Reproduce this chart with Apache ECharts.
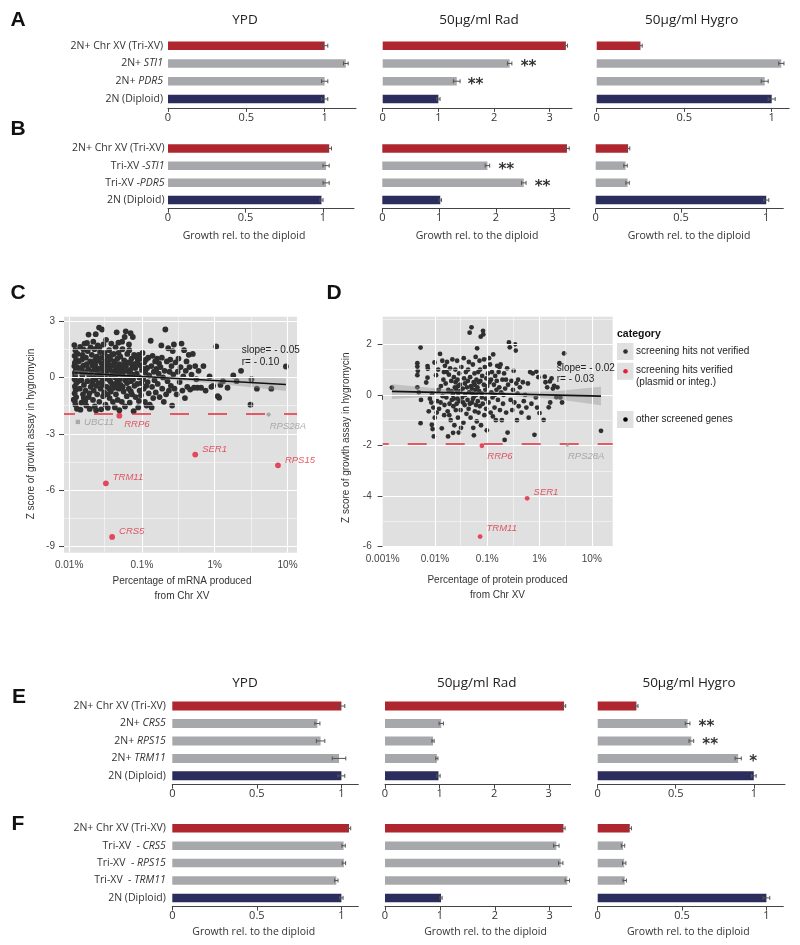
<!DOCTYPE html>
<html><head><meta charset="utf-8">
<script src="https://cdn.jsdelivr.net/npm/echarts@6/dist/echarts.min.js"></script>
<style>html,body{margin:0;padding:0;background:#fff}#c{width:800px;height:945px}</style>
</head><body><div id="c"></div>
<script>
// ---------------- DATA ----------------
const italicGenes = ['STI1','PDR5','CRS5','RPS15','TRM11'];
const catsA = ['2N+ Chr XV (Tri-XV)','2N+ STI1','2N+ PDR5','2N (Diploid)'];
const catsB = ['2N+ Chr XV (Tri-XV)','Tri-XV -STI1','Tri-XV -PDR5','2N (Diploid)'];
const catsE = ['2N+ Chr XV (Tri-XV)','2N+ CRS5','2N+ RPS15','2N+ TRM11','2N (Diploid)'];
const catsF = ['2N+ Chr XV (Tri-XV)','Tri-XV  - CRS5','Tri-XV  - RPS15','Tri-XV  - TRM11','2N (Diploid)'];
const conditions = ['YPD','50µg/ml Rad','50µg/ml Hygro'];
const axisTitle = 'Growth rel. to the diploid';

const A_ypd = [1.0, 1.135, 1.0, 1.0],    A_ypd_err = [0.02, 0.015, 0.02, 0.02];
const A_rad = [3.29, 2.28, 1.33, 1.0],   A_rad_err = [0.03, 0.04, 0.06, 0.03];
const A_hyg = [0.25, 1.055, 0.96, 1.0],  A_hyg_err = [0.01, 0.015, 0.02, 0.02];
const A_rad_stars = ['', '**', '**', ''];

const B_ypd = [1.04, 1.02, 1.02, 0.99],  B_ypd_err = [0.015, 0.02, 0.02, 0.01];
const B_rad = [3.25, 1.85, 2.49, 1.02],  B_rad_err = [0.04, 0.04, 0.04, 0.02];
const B_hyg = [0.19, 0.175, 0.187, 1.0], B_hyg_err = [0.01, 0.01, 0.01, 0.015];
const B_rad_stars = ['', '**', '**', ''];

const E_ypd = [1.0, 0.858, 0.877, 0.986, 1.0], E_ypd_err = [0.02, 0.015, 0.025, 0.04, 0.02];
const E_rad = [3.28, 1.03, 0.88, 0.95, 0.98],  E_rad_err = [0.03, 0.04, 0.02, 0.02, 0.03];
const E_hyg = [0.248, 0.576, 0.6, 0.9, 1.0],   E_hyg_err = [0.01, 0.015, 0.015, 0.02, 0.015];
const E_hyg_stars = ['', '**', '**', '*', ''];

const F_ypd = [1.045, 1.013, 1.015, 0.97, 1.0], F_ypd_err = [0.01, 0.01, 0.01, 0.01, 0.01];
const F_rad = [3.25, 3.12, 3.2, 3.32, 1.02],    F_rad_err = [0.03, 0.05, 0.04, 0.04, 0.02];
const F_hyg = [0.19, 0.15, 0.157, 0.16, 1.0],   F_hyg_err = [0.01, 0.01, 0.01, 0.01, 0.02];

const ticksYPD = [0, 0.5, 1], ticksRad = [0, 1, 2, 3], ticksHyg = [0, 0.5, 1];

// scatter C (mRNA %), scatter D (protein %)
const cTicksX = [0.01, 0.1, 1, 10], cMinorX = [0.0316, 0.316, 3.16];
const cTicksY = [-9, -6, -3, 0, 3], cMinorY = [-7.5, -4.5, -1.5, 1.5];
const dTicksX = [0.001, 0.01, 0.1, 1, 10], dMinorX = [0.00316, 0.0316, 0.316, 3.16];
const dTicksY = [-6, -4, -2, 0, 2], dMinorY = [-5, -3, -1, 1, 3];
const zThreshold = -1.92;

const cloudC = [
[0.0118,1.72],[0.0122,1.45],[0.0119,1.15],[0.0125,0.95],[0.012,0.78],[0.0118,0.6],[0.0124,0.42],[0.012,0.25],[0.0121,0.08],[0.0119,-0.1],[0.0126,-0.3],[0.012,-0.48],[0.0123,-0.66],[0.0119,-0.85],[0.0125,-1.05],[0.012,-1.25],[0.0122,-1.45],[0.0128,-1.67],[0.0116,-1.19],[0.0129,0.55],[0.0131,1.25],[0.0133,-0.2],[0.0135,0.85],
[0.0142,1.62],[0.0145,0.35],[0.014,-0.6],[0.0148,-1.35],[0.015,0.95],[0.0152,0.12],[0.0155,-0.9],[0.0158,1.48],[0.0143,-1.72],[0.0157,0.62],[0.0147,-0.15],[0.016,-0.4],[0.0153,1.2],[0.0149,0.5],[0.0159,-1.1],
[0.0163,1.8],[0.0165,0.28],[0.0168,-0.7],[0.017,1.05],[0.0172,-1.5],[0.0175,0.7],[0.0178,-0.2],[0.018,1.4],[0.0183,0.45],[0.0186,-1.05],[0.0189,0.1],[0.0192,-1.68],[0.0195,0.85],[0.0198,-0.5],[0.0176,1.83],[0.0185,2.28],[0.0197,1.6],[0.0167,-1.25],[0.019,-0.85],
[0.0202,0.3],[0.0205,1.2],[0.0208,-0.35],[0.021,0.65],[0.0213,-1.2],[0.0215,1.9],[0.0218,-0.7],[0.022,0.0],[0.0223,1.5],[0.0225,-1.55],[0.0228,0.95],[0.023,-0.1],[0.0232,2.3],[0.0235,-1.75],[0.0238,0.5],[0.024,1.1],[0.0243,-0.9],[0.0246,0.2],[0.0248,1.7],[0.0212,-0.15],[0.0227,0.7],[0.0237,-0.45],[0.0221,0.4],
[0.0252,-0.3],[0.0255,0.9],[0.0258,2.65],[0.026,-1.3],[0.0263,0.45],[0.0266,1.35],[0.027,-0.6],[0.0273,0.15],[0.0276,-1.7],[0.028,1.05],[0.0283,2.55],[0.0286,-0.2],[0.029,0.6],[0.0293,-1.0],[0.0296,1.75],[0.03,0.3],[0.0303,-0.8],[0.0306,1.3],[0.031,-0.05],[0.0313,0.85],[0.0316,-1.45],[0.0268,0.05],[0.0289,-0.4],[0.0307,0.55],[0.0262,1.6],[0.0278,0.75],
[0.0322,2.0],[0.0325,0.2],[0.033,-0.5],[0.0335,1.1],[0.034,-1.62],[0.0345,0.7],[0.035,-0.1],[0.0355,1.45],[0.036,-1.1],[0.0365,0.4],[0.037,0.95],[0.0375,-0.75],[0.038,1.8],[0.0385,0.1],[0.039,-0.35],[0.0395,0.65],[0.04,-1.3],[0.0328,0.8],[0.0348,0.45],[0.0368,-0.2],[0.0388,1.2],[0.0357,-0.6],[0.0338,-0.9],
[0.0405,0.3],[0.041,1.25],[0.0415,-0.55],[0.042,0.85],[0.0425,-1.6],[0.043,0.0],[0.0435,1.6],[0.044,-0.9],[0.0445,0.5],[0.045,2.4],[0.0455,-0.25],[0.046,1.0],[0.0465,-1.2],[0.047,0.2],[0.0475,1.85],[0.048,-0.6],[0.0485,0.7],[0.049,-1.75],[0.0495,0.4],[0.0418,0.6],[0.0438,-0.35],[0.0458,0.3],[0.0478,1.3],[0.0498,-0.1],
[0.0505,1.1],[0.051,-0.4],[0.052,0.55],[0.053,-1.3],[0.054,1.5],[0.055,0.1],[0.056,-0.75],[0.057,0.9],[0.058,2.15],[0.059,-0.15],[0.06,2.45],[0.061,0.35],[0.062,-1.0],[0.063,1.25],[0.0525,0.25],[0.0545,-0.5],[0.0565,0.7],[0.0585,-1.55],[0.0605,0.6],[0.0625,-0.3],[0.0535,1.9],[0.0575,0.45],
[0.064,0.0],[0.065,0.8],[0.066,-0.6],[0.067,1.45],[0.068,-1.35],[0.069,0.4],[0.07,2.35],[0.071,-0.2],[0.072,1.0],[0.073,-0.9],[0.074,0.6],[0.075,2.15],[0.076,0.15],[0.077,-1.8],[0.078,1.2],[0.079,-0.45],[0.0675,0.25],[0.0715,0.75],[0.0755,-0.1],[0.0665,1.75],[0.0705,-0.75],
[0.081,0.5],[0.082,-1.05],[0.083,1.1],[0.085,0.2],[0.086,-0.35],[0.088,0.9],[0.089,-1.6],[0.09,1.2],[0.092,0.0],[0.093,-0.7],[0.095,0.65],[0.096,1.0],[0.098,-0.3],[0.1,0.4],[0.084,0.75],[0.091,-1.25],[0.097,-0.95],
[0.102,1.3],[0.104,-0.1],[0.106,-0.6],[0.108,0.8],[0.11,-1.3],[0.112,0.25],[0.114,0.95],[0.116,-1.5],[0.118,0.5],[0.12,-0.25],[0.122,1.05],[0.124,-0.85],[0.126,0.1],[0.128,-1.45],[0.105,0.45],[0.115,-0.45],
[0.132,1.95],[0.135,0.6],[0.138,-0.5],[0.14,1.15],[0.143,-1.1],[0.146,0.3],[0.149,-0.15],[0.152,0.85],[0.155,-0.8],[0.158,0.45],[0.136,-1.6],
[0.162,1.0],[0.165,-0.35],[0.17,0.2],[0.175,-1.05],[0.18,0.55],[0.185,1.7],[0.19,-0.6],[0.195,0.0],[0.2,-1.3],[0.172,0.75],[0.188,1.05],
[0.205,0.35],[0.21,2.55],[0.215,-0.9],[0.22,0.85],[0.225,-0.2],[0.23,1.55],[0.235,-0.7],[0.24,0.3],[0.245,0.95],[0.25,-0.45],
[0.255,0.6],[0.26,-1.5],[0.265,1.4],[0.27,0.15],[0.275,1.75],[0.28,-0.6],[0.29,0.8],[0.3,-0.9],[0.31,0.3],[0.318,1.0],
[0.33,-0.25],[0.34,0.55],[0.35,1.8],[0.36,-0.7],[0.37,0.05],[0.38,1.45],[0.39,-1.1],[0.4,0.35],
[0.41,0.85],[0.42,-0.5],[0.44,1.2],[0.45,0.55],[0.46,-0.65],[0.48,0.15],[0.5,1.25],
[0.52,-0.55],[0.54,0.6],[0.56,-0.1],[0.58,-0.55],[0.6,0.35],
[0.65,-0.55],[0.7,0.6],[0.75,-0.7],[0.85,0.05],[0.9,-0.5],[0.95,-0.45],
[1.05,1.65],[1.1,-1.0],[1.15,-1.08],[1.2,-0.4],[1.3,-0.2],[1.5,-0.55],[1.8,0.1],[2.0,-0.2],
[2.3,0.35],[3.2,-0.1],[3.1,-1.45],[3.8,-0.6],[6.0,-0.6],[9.5,0.58]
];

const cloudD = [
[0.0015,0.29],
[0.0046,1.25],[0.0046,1.12],[0.0047,0.95],[0.0046,0.78],[0.0046,0.3],[0.0053,1.87],[0.0054,-0.2],[0.0053,-1.12],[0.0049,0.1],
[0.0072,1.14],[0.0073,1.03],[0.0072,0.68],[0.0068,0.49],[0.0087,-1.18],[0.009,-1.35],[0.0095,-1.64],[0.0085,-0.3],[0.0088,0.05],[0.0093,-0.5],[0.008,-0.15],[0.0098,1.28],[0.0076,-0.65],[0.0099,-0.9],
[0.0105,0.78],[0.011,-0.25],[0.0115,1.0],[0.012,-0.55],[0.0125,1.62],[0.013,0.35],[0.0135,-1.32],[0.014,-0.05],[0.0145,0.6],[0.015,-0.8],[0.0155,1.15],[0.0118,0.2],[0.0128,-0.3],[0.0148,0.9],[0.0152,-0.4],[0.0108,-0.7],[0.0138,1.35],
[0.016,0.45],[0.0165,-0.1],[0.017,1.3],[0.0175,-0.65],[0.018,0.2],[0.0178,-1.64],[0.0185,0.8],[0.019,-0.35],[0.0195,1.05],[0.02,-1.0],[0.0205,0.55],[0.021,-0.2],[0.0215,1.4],[0.022,0.0],[0.0225,-0.45],[0.023,0.7],[0.0235,-1.2],[0.024,0.3],[0.0245,1.0],[0.025,-0.6],[0.0168,0.9],[0.0188,-0.8],[0.0208,0.15],[0.0228,-0.15],[0.0248,0.5],[0.0222,-1.5],
[0.0255,0.2],[0.026,-0.35],[0.0265,1.35],[0.027,0.6],[0.0275,-0.9],[0.028,0.05],[0.0285,-1.49],[0.029,0.85],[0.0295,-0.25],[0.03,0.4],[0.031,-0.6],[0.032,1.1],[0.033,-0.1],[0.034,0.25],[0.035,-1.1],[0.036,0.65],[0.037,-0.4],[0.038,0.0],[0.039,0.9],[0.04,-0.75],[0.0268,-0.15],[0.0305,0.15],[0.0345,-0.3],[0.0375,0.45],[0.0315,-1.3],[0.0278,0.35],[0.0355,1.45],
[0.041,0.3],[0.042,-0.2],[0.043,1.0],[0.044,-0.55],[0.045,0.1],[0.046,2.46],[0.047,0.7],[0.048,-0.9],[0.049,0.35],[0.05,2.67],[0.051,-0.3],[0.052,0.05],[0.053,1.2],[0.054,-1.3],[0.055,0.5],[0.056,-0.05],[0.057,0.85],[0.058,-0.65],[0.059,0.2],[0.06,1.5],[0.061,-0.4],[0.062,0.6],[0.063,-1.05],[0.0425,0.55],[0.0465,-0.35],[0.0505,0.25],[0.0535,-0.15],[0.0575,0.4],[0.0615,0.0],[0.0445,1.3],[0.0555,-1.6],
[0.064,1.84],[0.065,0.3],[0.066,-0.25],[0.067,0.9],[0.068,-0.7],[0.07,0.15],[0.071,1.35],[0.072,-0.45],[0.074,0.55],[0.075,2.3],[0.076,-1.2],[0.078,0.05],[0.08,0.75],[0.082,-0.35],[0.083,2.53],[0.084,2.39],[0.086,0.4],[0.088,-0.8],[0.09,1.1],[0.092,0.2],[0.094,-0.15],[0.096,0.65],[0.098,-1.4],[0.1,0.35],[0.069,0.5],[0.079,-0.1],[0.087,1.4],[0.095,-0.55],[0.073,1.0],
[0.103,0.85],[0.106,-0.3],[0.11,0.5],[0.113,1.2],[0.116,-0.7],[0.12,0.1],[0.123,0.9],[0.126,-0.1],[0.13,1.6],[0.134,0.4],[0.138,-0.5],[0.142,0.75],[0.146,-1.0],[0.15,0.2],[0.155,1.15],[0.108,1.45],[0.118,0.6],[0.128,-0.85],[0.14,0.0],[0.152,0.55],
[0.16,-0.2],[0.165,0.9],[0.17,0.3],[0.175,-0.6],[0.18,1.2],[0.185,0.1],[0.19,-1.0],[0.195,0.6],[0.2,-0.35],[0.21,0.85],[0.215,-1.78],[0.22,0.25],[0.23,-0.7],[0.24,1.05],[0.245,-1.49],[0.25,0.4],[0.172,1.1],[0.205,0.0],[0.228,0.6],
[0.26,2.07],[0.27,1.88],[0.28,-0.2],[0.29,0.55],[0.3,-0.6],[0.31,0.2],[0.32,0.95],[0.33,-0.3],[0.34,2.0],[0.35,1.75],[0.36,0.45],[0.37,-1.0],[0.38,0.05],[0.39,0.6],[0.4,-0.45],
[0.42,0.3],[0.45,-0.7],[0.48,0.5],[0.5,-0.25],[0.53,0.0],[0.56,-0.5],[0.6,0.45],[0.62,-0.9],
[0.66,0.9],[0.7,-0.35],[0.74,0.85],[0.8,-1.58],[0.85,-0.1],[0.87,0.92],[0.9,-0.5],[0.95,0.7],
[1.0,-0.72],[1.2,-0.99],[1.26,0.72],[1.3,0.5],[1.4,0.3],[1.5,-0.49],[1.58,0.53],[1.6,-0.3],[1.8,0.25],[1.9,0.36],[2.1,-0.09],[2.2,0.3],[2.4,1.25],[1.7,0.65],[2.5,-0.1],
[2.95,1.64],[2.7,-0.3],[15,-1.42]
];

const specialC_names = ['UBC11','RRP6','RPS28A','SER1','RPS15','TRM11','CRS5'];
const specialC_x = [0.0132, 0.049, 5.5, 0.54, 7.4, 0.032, 0.039];
const specialC_z = [-2.37, -2.04, -1.98, -4.11, -4.68, -5.64, -8.49];
const specialC_verified = [false, true, false, true, true, true, true];

const specialD_names = ['RRP6','RPS28A','SER1','TRM11'];
const specialD_x = [0.079, 3.4, 0.58, 0.073];
const specialD_z = [-2.01, -1.98, -4.09, -5.60];
const specialD_verified = [true, false, true, true];

const fitC_x = [0.0118, 9.5], fitC_z = [0.25, -0.38];
const bandC_x = [0.0118, 0.03, 0.1, 0.5, 2, 9.5];
const bandC_hi = [0.40, 0.24, 0.12, 0.02, -0.01, -0.05];
const bandC_lo = [0.10, 0.08, -0.02, -0.22, -0.45, -0.73];

const fitD_x = [0.0015, 15], fitD_z = [0.14, -0.05];
const bandD_x = [0.0015, 0.01, 0.05, 0.3, 2, 15];
const bandD_hi = [0.42, 0.26, 0.13, 0.11, 0.14, 0.32];
const bandD_lo = [-0.16, -0.06, 0.01, -0.05, -0.16, -0.41];

const statC = ['slope= - 0.05', 'r= - 0.10'];
const statD = ['slope= - 0.02', 'r= - 0.03'];
const legendTitle = 'category';
const legendItems = ['screening hits not verified', 'screening hits verified\n(plasmid or integ.)', 'other screened genes'];

// ---------------- STYLE / LAYOUT ----------------
const RED = '#B0262F', GRAY = '#A7A8AB', NAVY = '#2B2E5C';
const BF = 'Open Sans', GF = 'Liberation Sans';
const PT_RED = '#E3203A', PT_DARK = '#2f2f2f', PT_GRAY = '#9a9a9a', PANEL_BG = '#E0E0E0';

const panels = [
  {cats:catsA, v:A_ypd, e:A_ypd_err, left:168,   width:188,   top:36.8,  height:71.1, max:1.2, ticks:ticksYPD, labels:true, lm:5,   bw:8.5},
  {cats:catsA, v:A_rad, e:A_rad_err, s:A_rad_stars, left:382.7, width:189.3, top:36.8, height:71.1, max:3.4, ticks:ticksRad, bw:8.5},
  {cats:catsA, v:A_hyg, e:A_hyg_err, left:596.7, width:192.5, top:36.8,  height:71.1, max:1.1, ticks:ticksHyg, bw:8.5},
  {cats:catsB, v:B_ypd, e:B_ypd_err, left:168,   width:186,   top:139.8, height:68.9, max:1.2, ticks:ticksYPD, labels:true, lm:3.5, bw:8.5},
  {cats:catsB, v:B_rad, e:B_rad_err, s:B_rad_stars, left:382.3, width:187.5, top:139.8, height:68.9, max:3.3, ticks:ticksRad, bw:8.5},
  {cats:catsB, v:B_hyg, e:B_hyg_err, left:595.7, width:187.6, top:139.8, height:68.9, max:1.1, ticks:ticksHyg, bw:8.5},
  {cats:catsE, v:E_ypd, e:E_ypd_err, left:172.3, width:186,   top:697.3, height:87.3, max:1.1, ticks:ticksYPD, labels:true, lm:6.5, bw:9},
  {cats:catsE, v:E_rad, e:E_rad_err, left:385,   width:185.6, top:697.3, height:87.3, max:3.4, ticks:ticksRad, bw:9},
  {cats:catsE, v:E_hyg, e:E_hyg_err, s:E_hyg_stars, left:597.7, width:187.3, top:697.3, height:87.3, max:1.2, ticks:ticksHyg, bw:9},
  {cats:catsF, v:F_ypd, e:F_ypd_err, left:172.3, width:186,   top:819.6, height:87,   max:1.1, ticks:ticksYPD, labels:true, lm:6.5, bw:8.5},
  {cats:catsF, v:F_rad, e:F_rad_err, left:385,   width:186.7, top:819.6, height:87,   max:3.4, ticks:ticksRad, bw:8.5},
  {cats:catsF, v:F_hyg, e:F_hyg_err, left:597.7, width:185.6, top:819.6, height:87,   max:1.1, ticks:ticksHyg, bw:8.5}
];

function catFormatter(v){
  for (const g of italicGenes){
    if (v.endsWith(g)) return v.slice(0, v.length - g.length) + '{i|' + g + '}';
  }
  return v;
}
function errRender(params, api){
  const c = api.value(0), v = api.value(1), e = api.value(2);
  const a = api.coord([v - e, c]), b = api.coord([v + e, c]);
  const h = 2, st = {stroke:'#555', lineWidth:1};
  return {type:'group', children:[
    {type:'line', shape:{x1:a[0], y1:a[1], x2:b[0], y2:b[1]}, style:st},
    {type:'line', shape:{x1:a[0], y1:a[1]-h, x2:a[0], y2:a[1]+h}, style:st},
    {type:'line', shape:{x1:b[0], y1:b[1]-h, x2:b[0], y2:b[1]+h}, style:st}
  ]};
}

const grids = [], xAxes = [], yAxes = [], series = [];
panels.forEach((p, i) => {
  grids.push({left:p.left, top:p.top, width:p.width, height:p.height, show:false, outerBoundsMode:'none'});
  xAxes.push({gridIndex:i, type:'value', min:0, max:p.max, splitLine:{show:false},
    axisLine:{show:true, lineStyle:{color:'#444', width:1}},
    axisTick:{show:true, length:4, lineStyle:{color:'#444'}, customValues:p.ticks},
    axisLabel:{customValues:p.ticks, fontFamily:BF, fontSize:11, color:'#333', margin:4, hideOverlap:false,
      formatter: v => String(+(+v).toFixed(2))}});
  yAxes.push({gridIndex:i, type:'category', data:p.cats, inverse:true,
    axisLine:{show:false}, axisTick:{show:false}, splitLine:{show:false},
    axisLabel:{show:!!p.labels, interval:0, margin:p.lm || 5, fontFamily:BF, fontSize:10.5, color:'#333', hideOverlap:false,
      formatter:catFormatter, rich:{i:{fontStyle:'italic', fontFamily:BF, fontSize:10.5, color:'#333'}}}});
  const n = p.v.length;
  series.push({type:'bar', xAxisIndex:i, yAxisIndex:i, barWidth:p.bw, silent:true,
    data:p.v.map((v, j) => ({value:v, itemStyle:{color: j === 0 ? RED : (j === n - 1 ? NAVY : GRAY)}})),
    label:{show:!!p.s, position:'right', distance:11, offset:[0, 4],
      formatter: prm => (p.s ? p.s[prm.dataIndex] : ''), fontFamily:'DejaVu Sans', fontSize:15, fontWeight:'bold', color:'#333'}});
  series.push({type:'custom', xAxisIndex:i, yAxisIndex:i, renderItem:errRender, encode:{x:1, y:0}, silent:true, z:3,
    data:p.v.map((v, j) => [j, v, p.e[j]])});
});

// ---- scatter panels ----
function scatterPanel(gi, cfg){
  grids.push({left:cfg.left, top:cfg.top, width:cfg.width, height:cfg.height, show:true, backgroundColor:PANEL_BG, borderWidth:0, outerBoundsMode:'none'});
  xAxes.push({gridIndex:gi, type:'log', logBase:10, min:cfg.xmin, max:cfg.xmax, splitLine:{show:false}, minorTick:{show:false},
    axisLine:{show:false},
    axisTick:{show:true, length:5, lineStyle:{color:'#444'}, customValues:cfg.tx},
    axisLabel:{customValues:cfg.tx, fontFamily:GF, fontSize:10, color:'#444', margin:8, hideOverlap:false,
      formatter: v => (+(+v).toPrecision(3)) + '%'}});
  yAxes.push({gridIndex:gi, type:'value', min:cfg.ymin, max:cfg.ymax, splitLine:{show:false},
    axisLine:{show:false},
    axisTick:{show:true, length:5, lineStyle:{color:'#444'}, customValues:cfg.ty},
    axisLabel:{customValues:cfg.ty, fontFamily:GF, fontSize:10, color:'#444', margin:cfg.ylm, hideOverlap:false,
      formatter: v => String(Math.round(v))}});
  const ml = [];
  cfg.tx.forEach(v => ml.push({xAxis:v, lineStyle:{color:'#fff', width:1.1, type:'solid'}}));
  cfg.mx.forEach(v => ml.push({xAxis:v, lineStyle:{color:'#fff', width:0.5, type:'solid'}}));
  cfg.ty.forEach(v => ml.push({yAxis:v, lineStyle:{color:'#fff', width:1.1, type:'solid'}}));
  cfg.my.forEach(v => ml.push({yAxis:v, lineStyle:{color:'#fff', width:0.5, type:'solid'}}));
  series.push({type:'scatter', xAxisIndex:gi, yAxisIndex:gi, data:[], z:1, silent:true,
    markLine:{silent:true, symbol:['none','none'], label:{show:false}, animation:false, data:ml}});
  series.push({type:'scatter', xAxisIndex:gi, yAxisIndex:gi, data:[], z:2, silent:true,
    markLine:{silent:true, symbol:['none','none'], label:{show:false}, animation:false,
      data:[{yAxis:zThreshold, lineStyle:{color:'#E23A45', width:1.6, type:[19, 19], dashOffset:cfg.dash}}]}});
  series.push({type:'scatter', xAxisIndex:gi, yAxisIndex:gi, data:cfg.cloud, symbolSize:cfg.ps,
    itemStyle:{color:PT_DARK, opacity:1}, z:3, silent:true});
  series.push({type:'custom', xAxisIndex:gi, yAxisIndex:gi, data:[[1, 0]], z:4, silent:true,
    renderItem:(params, api) => {
      const up = cfg.bx.map((x, k) => api.coord([x, cfg.bhi[k]]));
      const lo = cfg.bx.map((x, k) => api.coord([x, cfg.blo[k]])).reverse();
      return {type:'polygon', shape:{points:up.concat(lo)}, style:{fill:'rgba(150,150,150,0.42)'}};
    }});
  series.push({type:'line', xAxisIndex:gi, yAxisIndex:gi, data:cfg.fx.map((x, k) => [x, cfg.fz[k]]), symbol:'none',
    lineStyle:{color:'#111', width:1.6}, z:5, silent:true});
  series.push({type:'scatter', xAxisIndex:gi, yAxisIndex:gi, z:6, silent:true,
    data:cfg.sn.map((nm, k) => {
      const ls = cfg.lab[nm];
      return {value:[cfg.sx[k], cfg.sz[k]], symbol: nm === 'UBC11' ? 'rect' : 'circle',
        symbolSize: cfg.sv[k] ? cfg.ps : cfg.ps - 1.5,
        itemStyle:{color: cfg.sv[k] ? PT_RED : PT_GRAY},
        label:{show:true, formatter:nm, position:'right', distance:4, offset:ls,
          fontFamily:GF, fontStyle:'italic', fontSize:9.5, color: cfg.sv[k] ? '#E0303F' : '#999'}};
    })});
}
const n0 = panels.length;
scatterPanel(n0, {left:64, top:316.7, width:233, height:236, xmin:0.00851, xmax:13.5, ymin:-9.33, ymax:3.23,
  tx:cTicksX, mx:cMinorX, ty:cTicksY, my:cMinorY, ylm:9, dash:8, cloud:cloudC, ps:5.8,
  bx:bandC_x, bhi:bandC_hi, blo:bandC_lo, fx:fitC_x, fz:fitC_z,
  sn:specialC_names, sx:specialC_x, sz:specialC_z, sv:specialC_verified,
  lab:{UBC11:[0,0], RRP6:[-2,9], RPS28A:[-5,12], SER1:[0,-5], RPS15:[0,-5], TRM11:[0,-6], CRS5:[0,-6]}});
scatterPanel(n0 + 1, {left:382.7, top:316.7, width:230, height:230, xmin:0.001, xmax:25.1, ymin:-6, ymax:3.09,
  tx:dTicksX, mx:dMinorX, ty:dTicksY, my:dMinorY, ylm:11, dash:13, cloud:cloudD, ps:4.8,
  bx:bandD_x, bhi:bandD_hi, blo:bandD_lo, fx:fitD_x, fz:fitD_z,
  sn:specialD_names, sx:specialD_x, sz:specialD_z, sv:specialD_verified,
  lab:{RRP6:[-1,11], RPS28A:[-5,11], SER1:[0,-6], TRM11:[0,-8]}});

// ---- texts ----
function T(text, x, y, o){
  o = o || {};
  return {type:'text', x:x, y:y, rotation:o.rot || 0, silent:true, z:10,
    style:{text:text, fill:o.c || '#222', fontSize:o.s || 10, fontFamily:o.f || GF, fontWeight:o.w || 'normal',
      align:o.a || 'center', textAlign:o.a || 'center', verticalAlign:'middle', textVerticalAlign:'middle', lineHeight:o.lh || 12}};
}
const g = [];
[['A',18,20],['B',18,129],['C',18,293],['D',334,293],['E',19,697.5],['F',18,824]].forEach(l =>
  g.push(T(l[0], l[1], l[2], {s:21, w:'bold', f:'Liberation Sans', c:'#111'})));
[[245,479,691.7,20],[245,476.7,689,682.7]].forEach(r => {
  g.push(T(conditions[0], r[0], r[3], {s:13.5, f:BF, c:'#222'}));
  g.push(T(conditions[1], r[1], r[3], {s:13.5, f:BF, c:'#222'}));
  g.push(T(conditions[2], r[2], r[3], {s:13.5, f:BF, c:'#222'}));
});
[[244,477,689,236],[253.7,485.5,688.3,931.7]].forEach(r => {
  [0,1,2].forEach(k => g.push(T(axisTitle, r[k], r[3], {s:10.5, f:BF, c:'#333'})));
});
g.push(T('Z score of growth assay in hygromycin', 31.7, 434, {rot:Math.PI/2, s:10, c:'#333'}));
g.push(T('Z score of growth assay in hygromycin', 346.7, 437.7, {rot:Math.PI/2, s:10, c:'#333'}));
g.push(T('Percentage of mRNA produced', 182, 581.7, {s:10, c:'#333'}));
g.push(T('from Chr XV', 182, 596, {s:10, c:'#333'}));
g.push(T('Percentage of protein produced', 497.5, 580, {s:10, c:'#333'}));
g.push(T('from Chr XV', 497.5, 595, {s:10, c:'#333'}));
g.push(T(statC[0], 241.7, 350, {a:'left', s:10, c:'#222'}));
g.push(T(statC[1], 241.7, 362, {a:'left', s:10, c:'#222'}));
g.push(T(statD[0], 556.7, 368.3, {a:'left', s:10, c:'#222'}));
g.push(T(statD[1], 556.7, 379.3, {a:'left', s:10, c:'#222'}));
// legend D
g.push(T(legendTitle, 617, 334.3, {a:'left', s:10.5, w:'bold', c:'#111'}));
const legY = [351.5, 371.3, 419.5], legC = [PT_DARK, PT_RED, '#000'];
legY.forEach((y, k) => {
  g.push({type:'rect', shape:{x:617, y:y - 8.5, width:16.5, height:17}, style:{fill:PANEL_BG}, silent:true, z:9});
  g.push({type:'circle', shape:{cx:625.5, cy:y, r:2.3}, style:{fill:legC[k]}, silent:true, z:10});
});
g.push(T(legendItems[0], 636, 351, {a:'left', s:10, c:'#222'}));
g.push(T(legendItems[1].split('\n')[0], 636, 370.3, {a:'left', s:10, c:'#222'}));
g.push(T(legendItems[1].split('\n')[1], 636, 382.3, {a:'left', s:10, c:'#222'}));
g.push(T(legendItems[2], 636, 419.3, {a:'left', s:10, c:'#222'}));

const chart = echarts.init(document.getElementById('c'), null, {renderer:'canvas'});
chart.setOption({animation:false, backgroundColor:'#fff', grid:grids, xAxis:xAxes, yAxis:yAxes, series:series, graphic:{elements:g}});
</script></body></html>
